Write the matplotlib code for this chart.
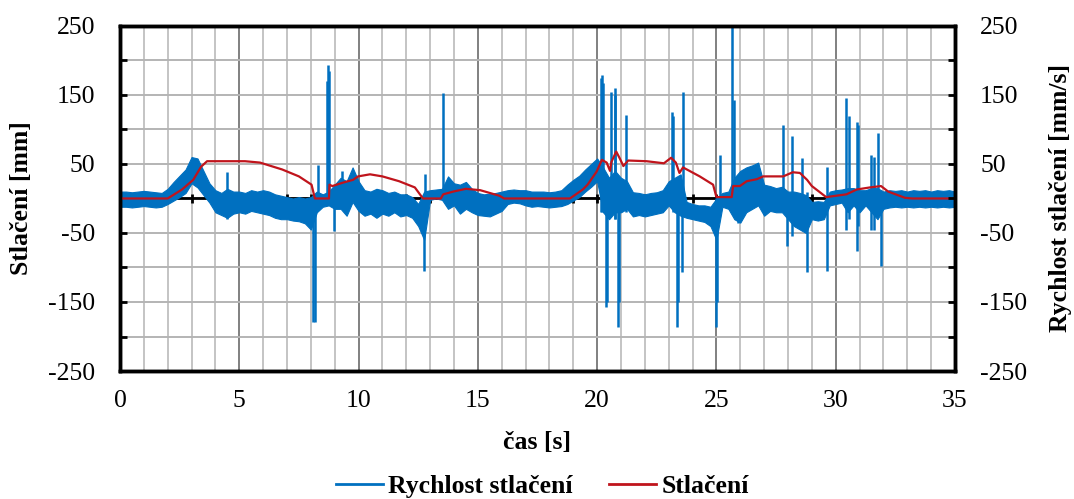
import matplotlib
matplotlib.use("Agg")
import matplotlib.pyplot as plt
from matplotlib.lines import Line2D
import numpy as np

# --- data ------------------------------------------------------------------
# velocity noise band (envelope) sampled every 0.25 s
vel_t = np.arange(0, 35.01, 0.25)
vel_lo = [
    -12, -12, -13, -12, -11, -12, -13, -12,          # 0 - 1.75
    -8, -3, 2, 8, 22, 16, 5, -6,                     # 2 - 3.75
    -20, -24, -28, -22, -20, -22, -18, -20,          # 4 - 5.75
    -22, -24, -28, -30, -30, -32, -33, -36,          # 6 - 7.75
    -45, -20, -12, -10, -15, -15, -25, -5,           # 8 - 9.75
    -18, -25, -22, -28, -22, -25, -20, -26,          # 10 - 11.75
    -24, -28, -40, -60, -2, 0, -2, -15,              # 12 - 13.75
    -10, -22, -15, -20, -24, -25, -26, -22,          # 14 - 15.75
    -18, -8, -6, -7, -10, -12, -11, -12,             # 16 - 17.75
    -13, -12, -11, -8, -3, 2, 10, 17,                # 18 - 19.75
    25, -20, -30, -20, -20, -15, -26, -24,           # 20 - 21.75
    -26, -24, -22, -20, -10, -20, -25, -28,          # 22 - 23.75
    -30, -32, -34, -40, -60, -12, -15, -30,          # 24 - 25.75
    -35, -20, -15, -10, -25, -18, -20, -20,          # 26 - 27.75
    -30, -40, -45, -50, -30, -32, -30, -10,          # 28 - 29.75
    -8, -6, -20, -10, -20, -10, -20, -30,            # 30 - 31.75
    -15, -13, -12, -13, -12, -13, -12, -13,          # 32 - 33.75
    -12, -13, -12, -13, -12,                         # 34 - 35
]
vel_hi = [
    10, 10, 9, 10, 11, 10, 9, 8,
    14, 24, 33, 42, 60, 58, 40, 22,
    12, 8, 14, 10, 10, 8, 12, 10,
    12, 10, 6, 4, 2, 0, 2, 0,
    2, 10, 6, 10, 20, 30, 25, 45,
    25, 12, 10, 14, 12, 8, 10, 6,
    6, 2, -8, 10, 12, 13, 14, 32,
    22, 20, 24, 14, 8, 6, 7, 8,
    10, 12, 13, 12, 12, 10, 10, 10,
    9, 10, 12, 20, 27, 33, 42, 50,
    58, 45, 30, 40, 30, 25, 9, 8,
    6, 8, 9, 12, 25, 30, 35, -5,
    -8, -10, -10, -12, 0, 8, 10, 30,
    40, 45, 48, 52, 20, 18, 15, 17,
    10, 10, 8, 5, -5, -4, -5, 10,
    12, 13, 15, 15, 12, 12, 15, 15,
    10, 12, 11, 12, 10, 12, 11, 12,
    10, 12, 11, 12, 10,
]

# individual velocity spikes: time, lowest and highest value
spike_t = [4.5, 8.1, 8.17, 8.28, 8.68, 8.72, 8.78, 8.97, 9.3, 12.74, 12.8,
           13.55, 20.17, 20.21, 20.25, 20.37, 20.42, 20.6, 20.73, 20.77,
           20.88, 20.92, 21.19, 23.13, 23.18, 23.35, 23.4, 23.55, 23.6,
           25.0, 25.04, 25.13, 25.67, 25.72, 25.9, 27.8, 27.95, 28.15, 28.57,
           28.8, 29.63, 30.45, 30.55, 30.88, 30.95, 31.5, 31.6, 31.78, 31.9]
spike_lo = [-30, -179, -179, -10, -5, -5, -5, -47, -7, -105, -10,
            0, -20, -20, -10, -157, -150, -20, -30, -30,
            -186, -150, -20, -10, -20, -186, -150, -107, -20,
            -186, -150, -10, -10, -20, -35, -20, -69, -55, -20,
            -107, -105, -45, -30, -76, -40, -45, -45, -20, -98]
spike_hi = [39, -10, 0, 49, 170, 193, 185, 10, 40, 0, 35,
            153, 175, 179, 168, 10, 20, 155, 160, 150,
            20, 10, 121, 126, 120, 10, 10, 20, 155,
            0, 0, 63, 255, 143, 10, 107, 10, 90, 59,
            10, 45, 145, 120, 111, 107, 63, 60, 95, 10]

# compression (Stlačení)
stl_t = [0, 2.0, 2.6, 3.07, 3.4, 3.65, 5.24, 5.87, 6.8, 7.5, 8.03, 8.17,
         8.76, 8.78, 8.9, 9.35, 9.77, 9.98, 10.48, 11.0, 11.7, 12.36, 12.7,
         13.45, 13.55, 13.97, 14.5, 15.1, 15.9, 16.1, 18.86, 19.4, 19.6,
         19.98, 20.2, 20.4, 20.54, 20.6, 20.8, 20.95, 21.1, 21.3, 22.07,
         22.8, 23.1, 23.3, 23.45, 23.6, 24.3, 24.86, 25.0, 25.64, 25.7,
         25.98, 26.27, 26.7, 26.96, 27.8, 28.2, 28.5, 28.8, 29.0, 29.6,
         30.45, 30.88, 31.43, 31.9, 32.2, 32.9, 33.2, 35]
stl_v = [0, 0, 13, 27, 46, 54, 54, 52, 42, 32, 20, 0,
         0, 20, 18, 23, 27, 32, 35, 32, 25, 16, 0,
         0, 6, 10, 14, 12, 4, 0, 0, 13, 20,
         39, 56, 52, 40, 53, 68, 58, 47, 55, 54,
         51, 59, 52, 37, 45, 32, 20, 2, 2, 18,
         18, 25, 28, 32, 32, 38, 37, 27, 18, 2,
         6, 13, 16, 18, 10, 1, 0, 0]

x_major = np.arange(0, 36, 5)
x_minor = np.arange(0, 36, 1)
y_major = np.arange(-250, 251, 100)
y_minor = np.arange(-200, 201, 100)

BLUE = "#0070C0"
RED = "#C0141C"
FS = 18.5

plt.rcParams["font.family"] = ["Liberation Serif", "DejaVu Serif"]
plt.rcParams["axes.unicode_minus"] = False

fig = plt.figure(figsize=(10.74, 4.99), dpi=100)
ax = fig.add_axes([0.1117, 0.2565, 0.7775, 0.6915])
ax.set_xlim(0, 35)
ax.set_ylim(-250, 250)

ax.set_xticks(x_major)
ax.set_xticks(x_minor, minor=True)
ax.set_yticks(y_major)
ax.set_yticks(y_minor, minor=True)
ax.grid(which="minor", axis="x", color="#C4C4C4", lw=1.4, zorder=0)
ax.grid(which="major", axis="x", color="#808080", lw=1.4, zorder=0)
ax.grid(which="both", axis="y", color="#B4B4B4", lw=1.4, zorder=0)
ax.set_axisbelow(True)

# zero line with one-second tick marks (the category axis crossing at 0)
ax.axhline(0, color="black", lw=2, zorder=1.5)
ax.vlines(x_minor, -6, 6, colors="black", lw=2, zorder=1.5)

ax.fill_between(vel_t, vel_lo, vel_hi, color=BLUE, lw=0.8, zorder=2)
ax.vlines(spike_t, spike_lo, spike_hi, colors=BLUE, lw=1.8, zorder=2)
ax.plot(stl_t, stl_v, color=RED, lw=1.6, zorder=3)

for s in ax.spines.values():
    s.set_linewidth(2.5)
ax.tick_params(axis="x", which="both", length=0, pad=14, labelsize=FS)
ax.tick_params(axis="y", which="both", direction="in", length=5, width=2,
               pad=18, labelsize=FS)
ax.set_ylabel("Stlačení [mm]", fontsize=FS, fontweight="bold", labelpad=11)
ax.set_xlabel("čas [s]", fontsize=FS, fontweight="bold", labelpad=13)

ax2 = ax.twinx()
ax2.set_ylim(-250, 250)
ax2.set_yticks(y_major)
ax2.set_yticks(y_minor, minor=True)
ax2.tick_params(axis="y", which="both", direction="in", length=5, width=2,
                pad=18, labelsize=FS)
for s in ax2.spines.values():
    s.set_linewidth(2.5)
ax2.set_ylabel("Rychlost stlačení [mm/s]", fontsize=FS, fontweight="bold",
               labelpad=16)

handles = [Line2D([], [], color=BLUE, lw=2), Line2D([], [], color=RED, lw=2)]
fig.legend(handles, ["Rychlost stlačení", "Stlačení"], loc="center",
           bbox_to_anchor=(0.505, 0.026), ncol=2, frameon=False,
           prop={"size": FS, "weight": "bold"}, handlelength=1.85,
           handletextpad=0.2, columnspacing=1.4)

fig.savefig("out.png", dpi=100)
